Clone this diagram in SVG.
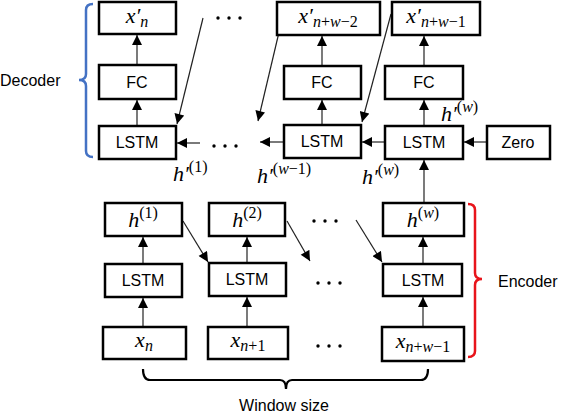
<svg xmlns="http://www.w3.org/2000/svg" width="563" height="414" viewBox="0 0 563 414">
<defs>
<style>
.box{fill:#fff;stroke:#000;stroke-width:2.5}
.lbl{font-family:"Liberation Sans",Arial,sans-serif;font-size:16px;fill:#000}
.m{font-family:"Liberation Serif","DejaVu Serif",serif;font-size:22px;font-style:italic;fill:#000}
.up{font-style:normal}
.sm{font-size:16px}
.c{text-anchor:middle}
.ln{stroke:#222;stroke-width:1.2;fill:none}
.dot{fill:#000}
</style>
<marker id="ah" viewBox="0 0 10 10" refX="10" refY="5" markerWidth="11" markerHeight="10" markerUnits="userSpaceOnUse" orient="auto">
<path d="M0,0 L10,5 L0,10 z" fill="#000"/>
</marker>
</defs>
<rect width="563" height="414" fill="#fff"/>

<g id="connectors">
<line class="ln" x1="137" y1="65" x2="137" y2="35" marker-end="url(#ah)"/>
<line class="ln" x1="137" y1="126" x2="137" y2="100" marker-end="url(#ah)"/>
<line class="ln" x1="322" y1="66" x2="322" y2="36" marker-end="url(#ah)"/>
<line class="ln" x1="322" y1="125" x2="322" y2="100" marker-end="url(#ah)"/>
<line class="ln" x1="424" y1="66" x2="424" y2="36" marker-end="url(#ah)"/>
<line class="ln" x1="424" y1="126" x2="424" y2="100" marker-end="url(#ah)"/>
<line class="ln" x1="424" y1="203" x2="424" y2="160" marker-end="url(#ah)"/>
<line class="ln" x1="200" y1="143" x2="177" y2="143" marker-end="url(#ah)"/>
<line class="ln" x1="284" y1="142" x2="260" y2="142" marker-end="url(#ah)"/>
<line class="ln" x1="385" y1="142" x2="362" y2="142" marker-end="url(#ah)"/>
<line class="ln" x1="487" y1="142" x2="464" y2="142" marker-end="url(#ah)"/>
<line class="ln" x1="203" y1="18" x2="177" y2="124" marker-end="url(#ah)"/>
<line class="ln" x1="280" y1="28" x2="258" y2="121" marker-end="url(#ah)"/>
<line class="ln" x1="391" y1="14" x2="362" y2="122" marker-end="url(#ah)"/>
<line class="ln" x1="143" y1="327" x2="143" y2="298" marker-end="url(#ah)"/>
<line class="ln" x1="143" y1="264" x2="143" y2="237" marker-end="url(#ah)"/>
<line class="ln" x1="247" y1="327" x2="247" y2="297" marker-end="url(#ah)"/>
<line class="ln" x1="247" y1="263" x2="247" y2="237" marker-end="url(#ah)"/>
<line class="ln" x1="423" y1="327" x2="423" y2="297" marker-end="url(#ah)"/>
<line class="ln" x1="423" y1="264" x2="423" y2="237" marker-end="url(#ah)"/>
<line class="ln" x1="183" y1="221" x2="208" y2="262" marker-end="url(#ah)"/>
<line class="ln" x1="287" y1="221" x2="310" y2="261" marker-end="url(#ah)"/>
<line class="ln" x1="356" y1="220" x2="382" y2="262" marker-end="url(#ah)"/>
</g>

<g id="dots">
<circle class="dot" cx="218" cy="18" r="1.7"/><circle class="dot" cx="229" cy="18" r="1.7"/><circle class="dot" cx="240" cy="18" r="1.7"/>
<circle class="dot" cx="214" cy="146" r="1.7"/><circle class="dot" cx="225" cy="146" r="1.7"/><circle class="dot" cx="236" cy="146" r="1.7"/>
<circle class="dot" cx="314" cy="221" r="1.7"/><circle class="dot" cx="325" cy="221" r="1.7"/><circle class="dot" cx="336" cy="221" r="1.7"/>
<circle class="dot" cx="318" cy="283" r="1.7"/><circle class="dot" cx="329" cy="283" r="1.7"/><circle class="dot" cx="340" cy="283" r="1.7"/>
<circle class="dot" cx="318" cy="346" r="1.7"/><circle class="dot" cx="329" cy="346" r="1.7"/><circle class="dot" cx="340" cy="346" r="1.7"/>
</g>

<g id="dec-x1"><rect class="box" x="99" y="2" width="77" height="32"/><text class="m c" x="137" y="23">x′<tspan class="sm" dy="4">n</tspan></text></g>
<g id="dec-fc1"><rect class="box" x="99" y="65" width="77" height="34"/><text class="lbl c" x="137" y="88">FC</text></g>
<g id="dec-lstm1"><rect class="box" x="99" y="126" width="77" height="33"/><text class="lbl c" x="137" y="148">LSTM</text></g>
<g id="dec-x2"><rect class="box" x="277" y="2" width="103" height="33"/><text class="m c" x="328" y="23">x′<tspan class="sm" dy="4">n<tspan class="up">+</tspan>w<tspan class="up">−2</tspan></tspan></text></g>
<g id="dec-fc2"><rect class="box" x="284" y="66" width="77" height="33"/><text class="lbl c" x="322" y="88">FC</text></g>
<g id="dec-lstm2"><rect class="box" x="284" y="125" width="77" height="33"/><text class="lbl c" x="322" y="147">LSTM</text></g>
<g id="dec-x3"><rect class="box" x="392" y="2" width="88" height="33"/><text class="m c" x="436" y="23">x′<tspan class="sm" dy="4">n<tspan class="up">+</tspan>w<tspan class="up">−1</tspan></tspan></text></g>
<g id="dec-fc3"><rect class="box" x="385" y="66" width="78" height="33"/><text class="lbl c" x="424" y="88">FC</text></g>
<g id="dec-lstm3"><rect class="box" x="385" y="126" width="78" height="33"/><text class="lbl c" x="424" y="148">LSTM</text></g>
<g id="zero"><rect class="box" x="487" y="126" width="63" height="33"/><text class="lbl c" x="518" y="148">Zero</text></g>

<g id="enc-h1"><rect class="box" x="105" y="203" width="77" height="33"/><text class="m c" x="143" y="227">h<tspan class="sm up" dy="-9">(1)</tspan></text></g>
<g id="enc-lstm1"><rect class="box" x="105" y="264" width="77" height="33"/><text class="lbl c" x="143" y="286">LSTM</text></g>
<g id="enc-x1"><rect class="box" x="103" y="327" width="83" height="32"/><text class="m c" x="144" y="347">x<tspan class="sm" dy="4">n</tspan></text></g>
<g id="enc-h2"><rect class="box" x="209" y="203" width="76" height="33"/><text class="m c" x="247" y="227">h<tspan class="sm up" dy="-9">(2)</tspan></text></g>
<g id="enc-lstm2"><rect class="box" x="209" y="263" width="77" height="33"/><text class="lbl c" x="247" y="285">LSTM</text></g>
<g id="enc-x2"><rect class="box" x="208" y="327" width="80" height="32"/><text class="m c" x="248" y="347">x<tspan class="sm" dy="4">n<tspan class="up">+1</tspan></tspan></text></g>
<g id="enc-hw"><rect class="box" x="383" y="203" width="81" height="33"/><text class="m c" x="423" y="227">h<tspan class="sm" dy="-9"><tspan class="up">(</tspan>w<tspan class="up">)</tspan></tspan></text></g>
<g id="enc-lstmw"><rect class="box" x="383" y="264" width="79" height="32"/><text class="lbl c" x="423" y="286">LSTM</text></g>
<g id="enc-xw"><rect class="box" x="382" y="327" width="82" height="34"/><text class="m c" x="423" y="348">x<tspan class="sm" dy="4">n<tspan class="up">+</tspan>w<tspan class="up">−1</tspan></tspan></text></g>

<g id="hidden-labels">
<text class="m" x="173" y="181">h′<tspan class="sm up" dy="-9">(1)</tspan></text>
<text class="m" x="257" y="183">h′<tspan class="sm" dy="-9"><tspan class="up">(</tspan>w<tspan class="up">−1)</tspan></tspan></text>
<text class="m" x="362" y="184">h′<tspan class="sm" dy="-9"><tspan class="up">(</tspan>w<tspan class="up">)</tspan></tspan></text>
<text class="m" x="441" y="121">h′<tspan class="sm" dy="-9"><tspan class="up">(</tspan>w<tspan class="up">)</tspan></tspan></text>
</g>

<g id="decoder-brace">
<path d="M93,4 Q86,4 86,10 L86,74 Q86,80 79,80 Q86,80 86,86 L86,151 Q86,157 93,157" fill="none" stroke="#4472C4" stroke-width="2.5"/>
<text class="lbl" x="0" y="86">Decoder</text>
</g>
<g id="encoder-brace">
<path d="M468,204 Q475,204 475,210 L475,273 Q475,279 482,279 Q475,279 475,285 L475,351 Q475,357 468,357" fill="none" stroke="#E8141B" stroke-width="2.5"/>
<text class="lbl" x="498" y="287">Encoder</text>
</g>
<g id="window-brace">
<path d="M143,369 Q143,380 150,380 L280,380 Q286,380 286,389 Q286,380 292,380 L421,380 Q428,380 428,369" fill="none" stroke="#000" stroke-width="2.2"/>
<text class="lbl c" x="284" y="411">Window size</text>
</g>
</svg>
